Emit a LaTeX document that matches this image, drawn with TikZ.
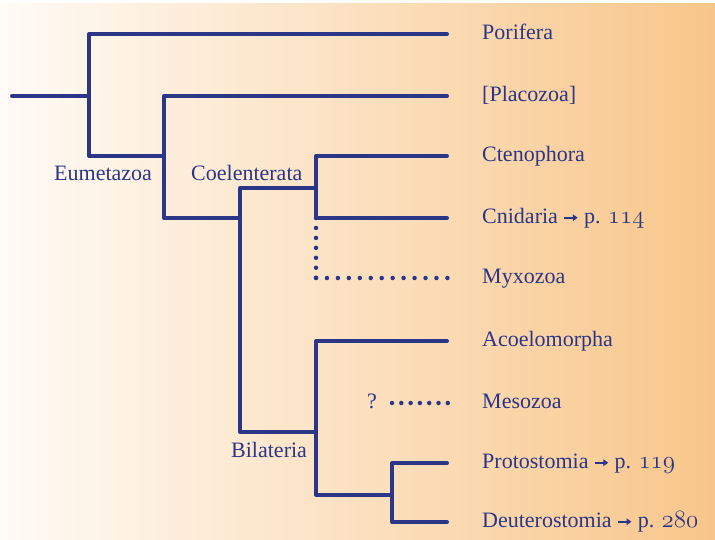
\documentclass[tikz,border=0pt]{standalone}
\usepackage{graphicx}
\usepackage{fontspec}
\setmainfont{Liberation Serif}
\usetikzlibrary{arrows.meta}
\definecolor{treeblue}{RGB}{43,54,135}
\definecolor{bgleft}{RGB}{255,251,246}
\definecolor{bgright}{RGB}{248,198,138}
\newcommand\pgarrow{\tikz[baseline=0pt,x=1pt,y=1pt]\draw[treeblue,line width=0.09em,-{Triangle[length=0.22em,width=0.3em]}] (0,0.24em) -- (0.6em,0.24em);}
\newcommand\osn[1]{\scalebox{1.2}{$\mathnormal{#1}$}}
\begin{document}
\begin{tikzpicture}[x=1pt,y=-1pt,
  branch/.style={draw=treeblue,line width=4pt,line cap=round,line join=round},
  dotline/.style={draw=treeblue,line width=4.5pt,line cap=round,dash pattern=on 0pt off #1},
  taxon/.style={anchor=base west,inner sep=0pt,text=treeblue,font=\fontsize{22}{25}\selectfont}]
\useasboundingbox (0,0) rectangle (715,539);
\fill[white] (0,0) rectangle (715,539);
\shade[left color=bgleft,right color=bgright] (0,3) rectangle (715,539);

% internal nodes
\coordinate (root) at (12,96);
\coordinate (n1) at (89,96);
\coordinate (n2) at (164,156);
\coordinate (n3) at (240,218);
\coordinate (n4) at (316,188);
\coordinate (n4b) at (316,218);
\coordinate (myx) at (316,278);
\coordinate (n5) at (316,432);
\coordinate (n6) at (392,495);
\coordinate (mesoA) at (392,403);

% branch tips
\coordinate (tPor) at (447,34);
\coordinate (tPla) at (447,96);
\coordinate (tCte) at (447,156);
\coordinate (tCni) at (447,218);
\coordinate (tMyx) at (448,278);
\coordinate (tAco) at (447,341);
\coordinate (tMes) at (448,403);
\coordinate (tPro) at (447,463);
\coordinate (tDeu) at (447,522);

% leaf labels
\node[taxon] (Por) at (482,39) {Porifera};
\node[taxon] (Pla) at (482,101) {[Placozoa]};
\node[taxon] (Cte) at (482,161) {Ctenophora};
\node[taxon] (Cni) at (482,223) {Cnidaria \pgarrow\ p. \osn{114}};
\node[taxon] (Myx) at (482,283) {Myxozoa};
\node[taxon] (Aco) at (482,346) {Acoelomorpha};
\node[taxon] (Mes) at (482,408) {Mesozoa};
\node[taxon] (Pro) at (482,468) {Protostomia \pgarrow\ p. \osn{119}};
\node[taxon] (Deu) at (482,527) {Deuterostomia \pgarrow\ p. \osn{280}};
\node[taxon] (q) at (367,408) {?};

% clade labels
\node[taxon] (Eum) at (54,180) {Eumetazoa};
\node[taxon] (Coe) at (191,180) {Coelenterata};
\node[taxon] (Bil) at (231,457) {Bilateria};

% branches
\draw[branch] (root) -- (n1);
\draw[branch] (n1) |- (tPor);
\draw[branch] (n1) |- (n2);
\draw[branch] (n2) |- (tPla);
\draw[branch] (n2) |- (n3);
\draw[branch] (n3) |- (n4);
\draw[branch] (n3) |- (n5);
\draw[branch] (n4) |- (tCte);
\draw[branch] (n4) |- (tCni);
\draw[branch] (n5) |- (tAco);
\draw[branch] (n5) |- (n6);
\draw[branch] (n6) |- (tPro);
\draw[branch] (n6) |- (tDeu);

% dotted branches
\draw[dotline=9.95pt] (n4b) -- (myx);
\draw[dotline=10.95pt] (myx) -- (tMyx);
\draw[dotline=9.3pt] (mesoA) -- (tMes);
\end{tikzpicture}
\end{document}
